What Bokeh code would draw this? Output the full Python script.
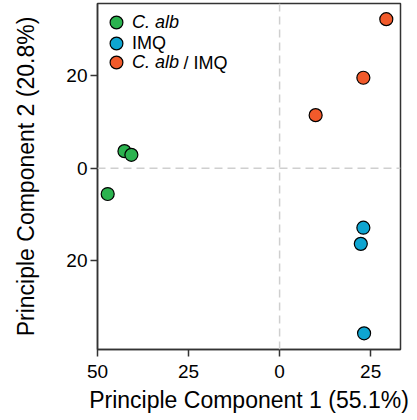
from bokeh.plotting import figure
from bokeh.models import (Range1d, FixedTicker, CustomJSTickFormatter, Span, Legend,
                          LegendItem, Label)
from bokeh.embed import file_html
from bokeh.resources import INLINE

# ---- data ----
groups = ["C. alb", "IMQ", "C. alb / IMQ"]
colors = ["#2bb34f", "#0ea5d1", "#f15a2b"]
calb_pc1 = [-42.6, -40.7, -47.2]
calb_pc2 = [3.7, 2.9, -5.6]
imq_pc1 = [23.0, 22.3, 23.2]
imq_pc2 = [-12.9, -16.4, -35.8]
both_pc1 = [29.3, 23.0, 9.9]
both_pc2 = [32.3, 19.6, 11.5]
x_ticks = [-50, -25, 0, 25]
y_ticks = [-20, 0, 20]
x_title = "Principle Component 1 (55.1%)"
y_title = "Principle Component 2 (20.8%)"

FONT = "Liberation Sans"
AXC = "#333333"

p = figure(width=417, height=420, output_backend="svg", toolbar_location=None,
           x_range=Range1d(-50, 33.2), y_range=Range1d(-39.3, 35.7),
           min_border_left=97, min_border_right=17, min_border_top=3,
           min_border_bottom=71)
p.grid.visible = False
p.outline_line_color = AXC
p.outline_line_width = 1.5
p.background_fill_color = "white"
p.border_fill_color = "white"

# zero lines
for dim in ("width", "height"):
    p.add_layout(Span(location=0, dimension=dim, line_color="#cfcfcf",
                      line_width=1.5, line_dash="8 5"))

fmt = CustomJSTickFormatter(code="return Math.abs(tick).toString();")
for ax, ticks in ((p.xaxis, x_ticks), (p.yaxis, y_ticks)):
    ax.ticker = FixedTicker(ticks=ticks)
    ax.formatter = fmt
    ax.minor_tick_line_color = None
    ax.major_tick_in = 0
    ax.major_tick_out = 7
    ax.major_tick_line_color = AXC
    ax.major_tick_line_width = 1.5
    ax.axis_line_color = AXC
    ax.axis_line_width = 1.5
    ax.major_label_text_font = FONT
    ax.major_label_text_font_size = "19px"
    ax.major_label_text_color = "black"
    ax.axis_label_text_font = FONT
    ax.axis_label_text_font_size = "23px"
    ax.axis_label_text_font_style = "normal"
    ax.axis_label_text_color = "black"

p.xaxis.axis_label = x_title
p.yaxis.axis_label = y_title
p.xaxis.major_label_standoff = 8
p.xaxis.axis_label_standoff = 6
p.yaxis.major_label_standoff = 3
p.yaxis.axis_label_standoff = 24
p.yaxis.major_label_orientation = "horizontal"

renderers = []
for xs, ys, c in ((calb_pc1, calb_pc2, colors[0]), (imq_pc1, imq_pc2, colors[1]),
                  (both_pc1, both_pc2, colors[2])):
    r = p.scatter(xs, ys, size=13, fill_color=c, line_color="black", line_width=1.2)
    renderers.append(r)

# legend: one legend per row so that italics can differ
styles = ["italic", "normal", "italic"]
labels = ["C. alb", "IMQ", "C. alb"]
locs = [(3, 311), (3, 290), (3, 271)]
for r, lab, st, loc in zip(renderers, labels, styles, locs):
    lg = Legend(items=[LegendItem(label=lab, renderers=[r])], location=loc,
                glyph_width=32, glyph_height=32, label_standoff=-2,
                padding=0, margin=0, border_line_alpha=0, background_fill_alpha=0,
                label_text_font=FONT, label_text_font_size="18px",
                label_text_font_style=st, label_text_color="black")
    p.add_layout(lg)

p.add_layout(Label(x=86, y=287, x_units="screen", y_units="screen", text="/ IMQ",
                   text_font=FONT, text_font_size="18px", text_baseline="middle",
                   text_color="black"))

open("out.html", "w").write(file_html(p, INLINE))
